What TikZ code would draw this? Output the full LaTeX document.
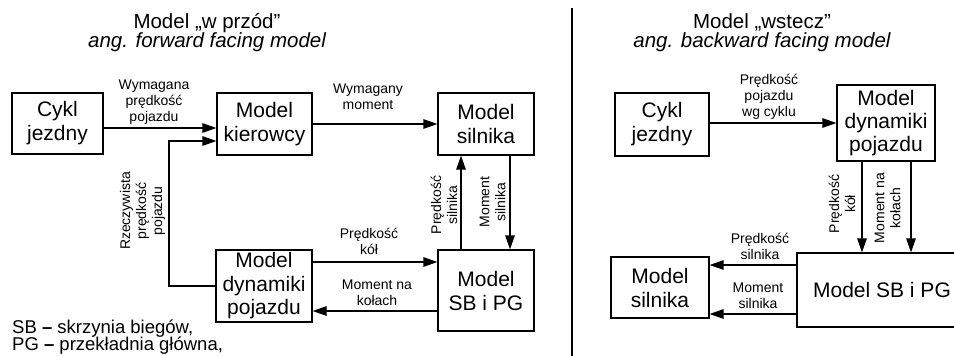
\documentclass[tikz,border=0pt]{standalone}
\usepackage{fontspec}
\setmainfont{Liberation Sans}
\usetikzlibrary{arrows.meta}
\begin{document}
\begin{tikzpicture}[x=1pt,y=-1pt,
  box/.style={draw, line width=1.2pt, inner sep=0pt, align=center, font=\fontsize{21}{24}\selectfont},
  lbl/.style={align=center, inner sep=0pt, font=\fontsize{14}{16}\selectfont},
  arr/.style={line width=1.2pt, -{Triangle[length=14pt,width=9.5pt]}},
  title/.style={anchor=base, inner sep=0pt, font=\fontsize{20.5}{25}\selectfont},
  ititle/.style={anchor=base, inner sep=0pt, font=\fontsize{20.5}{25}\selectfont\itshape},
  foot/.style={anchor=base west, inner sep=0pt, font=\fontsize{18.5}{18}\selectfont}]
\useasboundingbox (0,0) rectangle (954,356);

% titles
\node[title] (t1) at (207,28.5) {Model „w przód”};
\node[ititle] (t2) at (207,47.5) {ang. forward facing model};
\node[title] (t3) at (762,28.5) {Model „wstecz”};
\node[ititle] (t4) at (762,47.5) {ang. backward facing model};

% separator
\coordinate (sepA) at (572,8);
\coordinate (sepB) at (572,356);
\draw[line width=1.2pt] (sepA) -- (sepB);

% ---------- left: forward model ----------
\node[box, minimum width=91pt, minimum height=61pt] (cj1) at (57.5,123.5) {Cykl\\jezdny};
\node[box, minimum width=95pt, minimum height=62pt] (kier) at (264.5,124) {Model\\kierowcy};
\node[box, minimum width=96pt, minimum height=62pt] (sil1) at (486,124) {Model\\silnika};
\node[box, minimum width=96pt, minimum height=81pt] (sb1) at (486,290.5) {Model\\SB i PG};
\node[box, minimum width=96pt, minimum height=72pt, font=\fontsize{21}{23.5}\selectfont] (dyn1) at (264,286) {Model\\dynamiki\\pojazdu};

\coordinate (kin1) at ([yshift=-4pt]kier.west);
\draw[arr] (cj1.east |- kin1) -- (kin1);
\coordinate (kin2) at ([yshift=-17pt]kier.west);
\coordinate (fb) at (169,0);
\draw[arr] (dyn1.west) -| (fb |- kin2) -- (kin2);
\draw[arr] (kier.east) -- (sil1.west);
\coordinate (up1) at ([xshift=-25pt]sb1.north);
\draw[arr] (up1) -- (up1 |- sil1.south);
\coordinate (dn1) at ([xshift=24pt]sil1.south);
\draw[arr] (dn1) -- (dn1 |- sb1.north);
\coordinate (dout) at ([yshift=24pt]dyn1.east);
\draw[arr] (dout) -- (dout -| sb1.west);
\coordinate (din) at ([yshift=-25pt]dyn1.east);
\draw[arr] (din -| sb1.west) -- (din);

\node[lbl] (l1) at (154,102) {Wymagana\\prędkość\\pojazdu};
\node[lbl] (l2) at (368,97) {Wymagany\\moment};
\node[lbl, rotate=90] (l3) at (142.5,211) {Rzeczywista\\prędkość\\pojazdu};
\node[lbl] (l4) at (369,241.5) {Prędkość\\kół};
\node[lbl] (l5) at (377,292.5) {Moment na\\kołach};
\node[lbl, rotate=90] (l6) at (444,205) {Prędkość\\silnika};
\node[lbl, rotate=90] (l7) at (492.5,202) {Moment\\silnika};

\node[foot] (fn1) at (12,333) {SB \textbf{–} skrzynia biegów,};
\node[foot] (fn2) at (12,350.5) {PG \textbf{–} przekładnia główna,};

% ---------- right: backward model ----------
\node[box, minimum width=94pt, minimum height=63pt] (cj2) at (662,124.5) {Cykl\\jezdny};
\node[box, minimum width=98pt, minimum height=76pt, font=\fontsize{21}{23}\selectfont] (dyn2) at (886,123) {Model\\dynamiki\\pojazdu};
\node[box, minimum width=170pt, minimum height=74pt] (sb2) at (882,290) {Model SB i PG};
\node[box, minimum width=98pt, minimum height=61pt] (sil2) at (660,287.5) {Model\\silnika};

\draw[arr] (dyn2.west -| cj2.east) -- (dyn2.west);
\coordinate (v1) at ([xshift=-24pt]dyn2.south);
\draw[arr] (v1) -- (v1 |- sb2.north);
\coordinate (v2) at ([xshift=25pt]dyn2.south);
\draw[arr] (v2) -- (v2 |- sb2.north);
\coordinate (s1) at ([yshift=25pt]sb2.west);
\draw[arr] (s1) -- (s1 -| sil2.east);
\coordinate (s2) at ([yshift=-24pt]sb2.west);
\draw[arr] (s2) -- (s2 -| sil2.east);

\node[lbl] (l8) at (769,97) {Prędkość\\pojazdu\\wg cyklu};
\node[lbl, rotate=90] (l9) at (842,204) {Prędkość\\kół};
\node[lbl, rotate=90] (l10) at (887.5,208) {Moment na\\kołach};
\node[lbl] (l11) at (760,246.5) {Prędkość\\silnika};
\node[lbl] (l12) at (758,296) {Moment\\silnika};
\end{tikzpicture}
\end{document}
